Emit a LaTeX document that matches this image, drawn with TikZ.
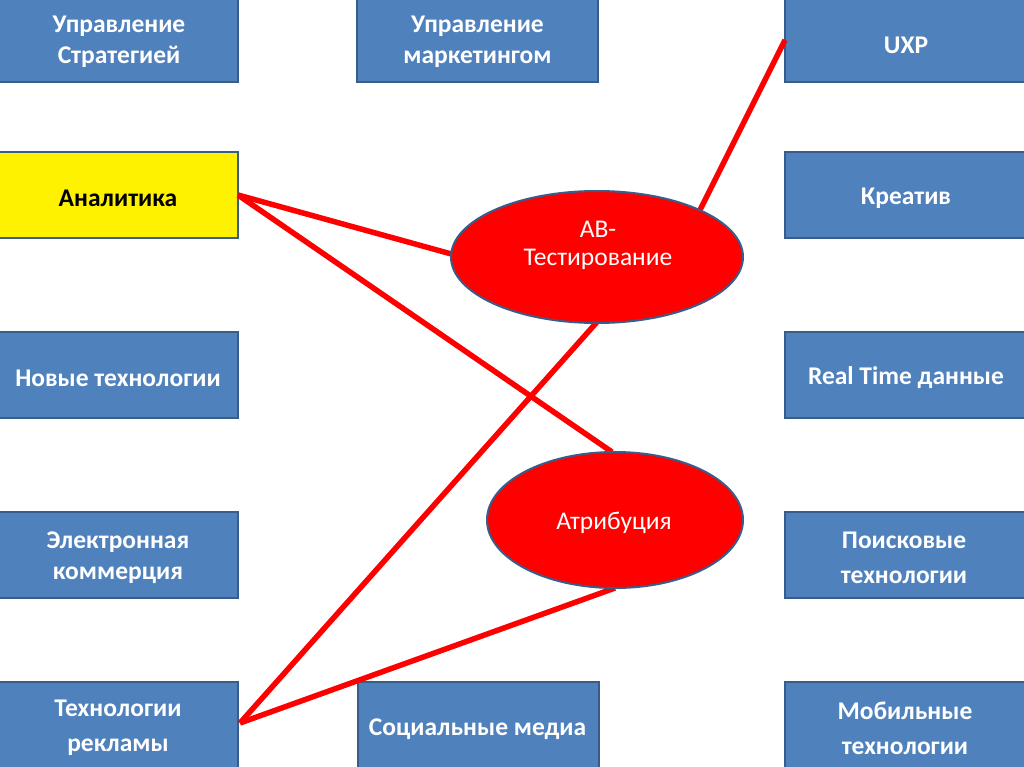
\documentclass[tikz,border=0pt]{standalone}
\usepackage{fontspec}
\setmainfont{Carlito}
\usetikzlibrary{shapes.geometric}
\definecolor{boxblue}{HTML}{4F81BD}
\definecolor{boxedge}{HTML}{385D8A}
\definecolor{ellred}{HTML}{FF0000}
\begin{document}
\begin{tikzpicture}[x=1pt,y=-1pt,
  bx/.style={draw=boxedge,line width=2pt,fill=boxblue,minimum width=250pt,minimum height=86pt,
    inner sep=0pt},
  yel/.style={bx,fill=yellow},
  tx/.style={inner sep=0pt,align=center,text=white,font=\fontsize{25.5}{31}\selectfont\bfseries},
  txw/.style={tx,font=\fontsize{25.5}{35}\selectfont\bfseries},
  ell/.style={ellipse,draw=boxedge,line width=2pt,fill=ellred,inner sep=0pt},
  etx/.style={inner sep=0pt,align=center,text=white,font=\fontsize{25.5}{28}\selectfont},
  link/.style={draw=ellred,line width=5.5pt}]
\useasboundingbox (0,0) rectangle (1024,767);
\begin{scope}
\clip (0,0) rectangle (1024,767);
% boxes
\node[bx] (us) at (113,39) {};
\node[yel] (an) at (113,195) {};
\node[bx] (nt) at (113,375) {};
\node[bx] (ek) at (113,555) {};
\node[bx] (tr) at (113,725) {};
\node[bx,minimum width=241pt] (um) at (477.5,39) {};
\node[bx,minimum width=241pt] (sm) at (478,725) {};
\node[bx] (uxp) at (910,39) {};
\node[bx] (kr) at (910,195) {};
\node[bx] (rt) at (910,375) {};
\node[bx] (pt) at (910,555) {};
\node[bx] (mt) at (910,725) {};
% texts
\node[tx] (usT) at (119,42) {Управление\\Стратегией};
\node[tx,text=black] (anT) at (118,198) {Аналитика};
\node[tx] (ntT) at (118,378) {Новые технологии};
\node[tx] (ekT) at (118,558) {Электронная\\коммерция};
\node[txw] (trT) at (118,728) {Технологии\\рекламы};
\node[tx] (umT) at (477.5,42) {Управление\\маркетингом};
\node[tx] (smT) at (477.5,729) {Социальные медиа};
\node[tx] (uxpT) at (906,45) {UXP};
\node[tx] (krT) at (906,198) {Креатив};
\node[tx] (rtT) at (906,378) {Real Time данные};
\node[txw] (ptT) at (904,558) {Поисковые\\технологии};
\node[txw] (mtT) at (905,728) {Мобильные\\технологии};
% connectors
\coordinate (anR) at (238,195);
\coordinate (trR) at (240,723);
\coordinate (uxpL) at (785,40);
\path[link] (anR) -- (612,452);
\path[link] (trR) -- (597,322);
\path[link] (trR) -- (615,588);
\path[link] (uxpL) -- (700,210);
\path[link] (anR) -- (455,255);
% ellipses
\node[ell,minimum width=292pt,minimum height=132pt] (ab) at (597,257) {};
\node[etx] (abT) at (598,245) {AB-\\Тестирование};
\node[ell,minimum width=256pt,minimum height=136pt] (at) at (615,520) {};
\node[etx] (atT) at (614,523) {Атрибуция};
\end{scope}
\end{tikzpicture}
\end{document}
